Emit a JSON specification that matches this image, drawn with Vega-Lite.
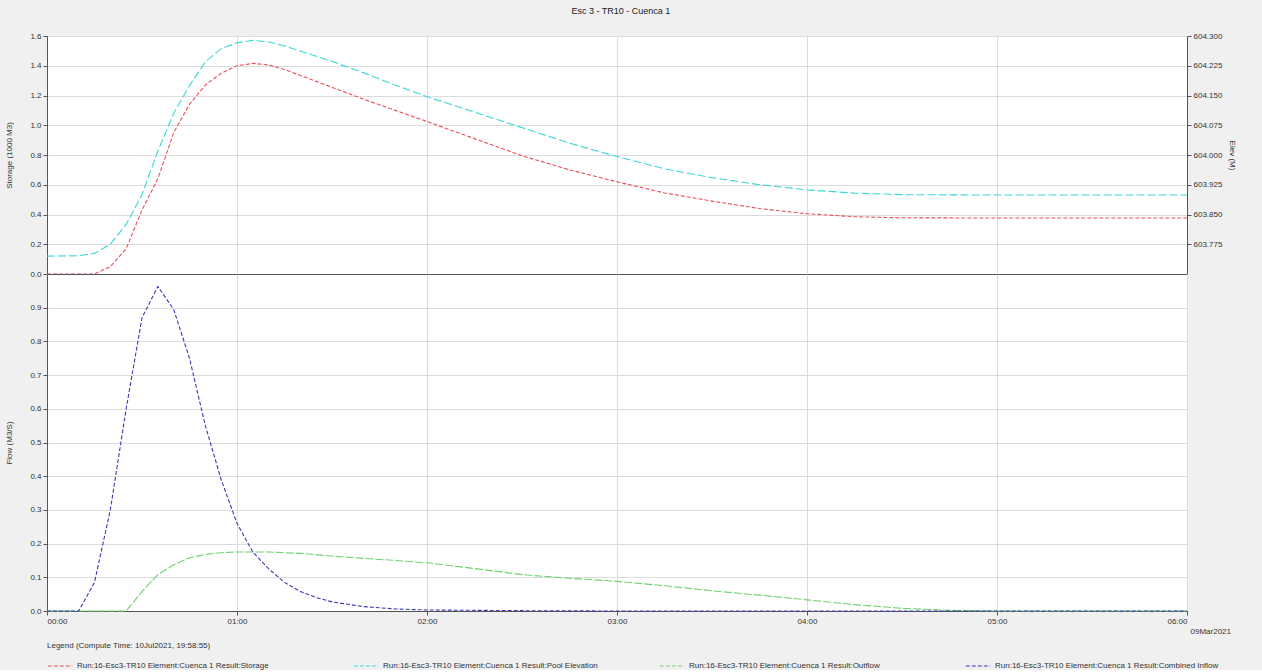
{
  "$schema": "https://vega.github.io/schema/vega-lite/v6.json",
  "background": "#f0f0f0",
  "padding": {"left": 5, "right": 27, "top": 6, "bottom": 0},
  "title": {"text": "Esc 3 - TR10 - Cuenca 1", "fontSize": 9, "fontWeight": "normal", "font": "Liberation Sans", "color": "#222", "offset": 16, "anchor": "middle"},
  "config": {
    "font": "Liberation Sans",
    "view": {"fill": "white", "stroke": "#555", "strokeWidth": 1},
    "axis": {"labelFontSize": 8, "titleFontSize": 8, "titleFontWeight": "normal", "labelColor": "#333", "titleColor": "#333", "gridColor": "#dcdcdc", "domainColor": "#555", "tickColor": "#555", "tickSize": 4},
    "legend": {"labelFontSize": 8, "titleFontSize": 8, "titleFontWeight": "normal", "labelColor": "#333", "titleColor": "#333", "orient": "bottom", "direction": "horizontal", "columns": 4, "symbolType": "stroke", "symbolSize": 600, "symbolStrokeWidth": 1.2, "symbolDash": [4, 2], "labelLimit": 320, "gridAlign": "all", "columnPadding": 50, "offset": 6, "titlePadding": 3, "rowPadding": 2}
  },
  "datasets": {
    "storage": [
      {"series": "Run:16-Esc3-TR10 Element:Cuenca 1 Result:Storage", "time": "2021-03-09T00:00:00Z", "value": 0},
      {"series": "Run:16-Esc3-TR10 Element:Cuenca 1 Result:Storage", "time": "2021-03-09T00:15:00Z", "value": 0},
      {"series": "Run:16-Esc3-TR10 Element:Cuenca 1 Result:Storage", "time": "2021-03-09T00:20:00Z", "value": 0.05},
      {"series": "Run:16-Esc3-TR10 Element:Cuenca 1 Result:Storage", "time": "2021-03-09T00:25:00Z", "value": 0.17},
      {"series": "Run:16-Esc3-TR10 Element:Cuenca 1 Result:Storage", "time": "2021-03-09T00:30:00Z", "value": 0.43},
      {"series": "Run:16-Esc3-TR10 Element:Cuenca 1 Result:Storage", "time": "2021-03-09T00:35:00Z", "value": 0.64},
      {"series": "Run:16-Esc3-TR10 Element:Cuenca 1 Result:Storage", "time": "2021-03-09T00:40:00Z", "value": 0.95},
      {"series": "Run:16-Esc3-TR10 Element:Cuenca 1 Result:Storage", "time": "2021-03-09T00:45:00Z", "value": 1.14},
      {"series": "Run:16-Esc3-TR10 Element:Cuenca 1 Result:Storage", "time": "2021-03-09T00:50:00Z", "value": 1.27},
      {"series": "Run:16-Esc3-TR10 Element:Cuenca 1 Result:Storage", "time": "2021-03-09T00:55:00Z", "value": 1.35},
      {"series": "Run:16-Esc3-TR10 Element:Cuenca 1 Result:Storage", "time": "2021-03-09T01:00:00Z", "value": 1.4},
      {"series": "Run:16-Esc3-TR10 Element:Cuenca 1 Result:Storage", "time": "2021-03-09T01:05:00Z", "value": 1.416},
      {"series": "Run:16-Esc3-TR10 Element:Cuenca 1 Result:Storage", "time": "2021-03-09T01:10:00Z", "value": 1.405},
      {"series": "Run:16-Esc3-TR10 Element:Cuenca 1 Result:Storage", "time": "2021-03-09T01:15:00Z", "value": 1.375},
      {"series": "Run:16-Esc3-TR10 Element:Cuenca 1 Result:Storage", "time": "2021-03-09T01:20:00Z", "value": 1.335},
      {"series": "Run:16-Esc3-TR10 Element:Cuenca 1 Result:Storage", "time": "2021-03-09T01:25:00Z", "value": 1.295},
      {"series": "Run:16-Esc3-TR10 Element:Cuenca 1 Result:Storage", "time": "2021-03-09T01:30:00Z", "value": 1.255},
      {"series": "Run:16-Esc3-TR10 Element:Cuenca 1 Result:Storage", "time": "2021-03-09T01:40:00Z", "value": 1.175},
      {"series": "Run:16-Esc3-TR10 Element:Cuenca 1 Result:Storage", "time": "2021-03-09T01:50:00Z", "value": 1.1},
      {"series": "Run:16-Esc3-TR10 Element:Cuenca 1 Result:Storage", "time": "2021-03-09T02:00:00Z", "value": 1.025},
      {"series": "Run:16-Esc3-TR10 Element:Cuenca 1 Result:Storage", "time": "2021-03-09T02:15:00Z", "value": 0.91},
      {"series": "Run:16-Esc3-TR10 Element:Cuenca 1 Result:Storage", "time": "2021-03-09T02:30:00Z", "value": 0.795},
      {"series": "Run:16-Esc3-TR10 Element:Cuenca 1 Result:Storage", "time": "2021-03-09T02:45:00Z", "value": 0.7},
      {"series": "Run:16-Esc3-TR10 Element:Cuenca 1 Result:Storage", "time": "2021-03-09T03:00:00Z", "value": 0.62},
      {"series": "Run:16-Esc3-TR10 Element:Cuenca 1 Result:Storage", "time": "2021-03-09T03:15:00Z", "value": 0.545},
      {"series": "Run:16-Esc3-TR10 Element:Cuenca 1 Result:Storage", "time": "2021-03-09T03:30:00Z", "value": 0.49},
      {"series": "Run:16-Esc3-TR10 Element:Cuenca 1 Result:Storage", "time": "2021-03-09T03:45:00Z", "value": 0.44},
      {"series": "Run:16-Esc3-TR10 Element:Cuenca 1 Result:Storage", "time": "2021-03-09T04:00:00Z", "value": 0.405},
      {"series": "Run:16-Esc3-TR10 Element:Cuenca 1 Result:Storage", "time": "2021-03-09T04:15:00Z", "value": 0.385},
      {"series": "Run:16-Esc3-TR10 Element:Cuenca 1 Result:Storage", "time": "2021-03-09T04:30:00Z", "value": 0.378},
      {"series": "Run:16-Esc3-TR10 Element:Cuenca 1 Result:Storage", "time": "2021-03-09T05:00:00Z", "value": 0.376},
      {"series": "Run:16-Esc3-TR10 Element:Cuenca 1 Result:Storage", "time": "2021-03-09T06:00:00Z", "value": 0.376}
    ],
    "elev": [
      {"series": "Run:16-Esc3-TR10 Element:Cuenca 1 Result:Pool Elevation", "time": "2021-03-09T00:00:00Z", "value": 603.745},
      {"series": "Run:16-Esc3-TR10 Element:Cuenca 1 Result:Pool Elevation", "time": "2021-03-09T00:10:00Z", "value": 603.746},
      {"series": "Run:16-Esc3-TR10 Element:Cuenca 1 Result:Pool Elevation", "time": "2021-03-09T00:15:00Z", "value": 603.752},
      {"series": "Run:16-Esc3-TR10 Element:Cuenca 1 Result:Pool Elevation", "time": "2021-03-09T00:20:00Z", "value": 603.775},
      {"series": "Run:16-Esc3-TR10 Element:Cuenca 1 Result:Pool Elevation", "time": "2021-03-09T00:25:00Z", "value": 603.825},
      {"series": "Run:16-Esc3-TR10 Element:Cuenca 1 Result:Pool Elevation", "time": "2021-03-09T00:30:00Z", "value": 603.9},
      {"series": "Run:16-Esc3-TR10 Element:Cuenca 1 Result:Pool Elevation", "time": "2021-03-09T00:35:00Z", "value": 604.01},
      {"series": "Run:16-Esc3-TR10 Element:Cuenca 1 Result:Pool Elevation", "time": "2021-03-09T00:40:00Z", "value": 604.105},
      {"series": "Run:16-Esc3-TR10 Element:Cuenca 1 Result:Pool Elevation", "time": "2021-03-09T00:45:00Z", "value": 604.175},
      {"series": "Run:16-Esc3-TR10 Element:Cuenca 1 Result:Pool Elevation", "time": "2021-03-09T00:50:00Z", "value": 604.235},
      {"series": "Run:16-Esc3-TR10 Element:Cuenca 1 Result:Pool Elevation", "time": "2021-03-09T00:55:00Z", "value": 604.268},
      {"series": "Run:16-Esc3-TR10 Element:Cuenca 1 Result:Pool Elevation", "time": "2021-03-09T01:00:00Z", "value": 604.283},
      {"series": "Run:16-Esc3-TR10 Element:Cuenca 1 Result:Pool Elevation", "time": "2021-03-09T01:05:00Z", "value": 604.289},
      {"series": "Run:16-Esc3-TR10 Element:Cuenca 1 Result:Pool Elevation", "time": "2021-03-09T01:10:00Z", "value": 604.285},
      {"series": "Run:16-Esc3-TR10 Element:Cuenca 1 Result:Pool Elevation", "time": "2021-03-09T01:15:00Z", "value": 604.275},
      {"series": "Run:16-Esc3-TR10 Element:Cuenca 1 Result:Pool Elevation", "time": "2021-03-09T01:20:00Z", "value": 604.262},
      {"series": "Run:16-Esc3-TR10 Element:Cuenca 1 Result:Pool Elevation", "time": "2021-03-09T01:30:00Z", "value": 604.236},
      {"series": "Run:16-Esc3-TR10 Element:Cuenca 1 Result:Pool Elevation", "time": "2021-03-09T01:40:00Z", "value": 604.207},
      {"series": "Run:16-Esc3-TR10 Element:Cuenca 1 Result:Pool Elevation", "time": "2021-03-09T01:50:00Z", "value": 604.176},
      {"series": "Run:16-Esc3-TR10 Element:Cuenca 1 Result:Pool Elevation", "time": "2021-03-09T02:00:00Z", "value": 604.147},
      {"series": "Run:16-Esc3-TR10 Element:Cuenca 1 Result:Pool Elevation", "time": "2021-03-09T02:15:00Z", "value": 604.108},
      {"series": "Run:16-Esc3-TR10 Element:Cuenca 1 Result:Pool Elevation", "time": "2021-03-09T02:30:00Z", "value": 604.069},
      {"series": "Run:16-Esc3-TR10 Element:Cuenca 1 Result:Pool Elevation", "time": "2021-03-09T02:45:00Z", "value": 604.03},
      {"series": "Run:16-Esc3-TR10 Element:Cuenca 1 Result:Pool Elevation", "time": "2021-03-09T03:00:00Z", "value": 603.996},
      {"series": "Run:16-Esc3-TR10 Element:Cuenca 1 Result:Pool Elevation", "time": "2021-03-09T03:15:00Z", "value": 603.965},
      {"series": "Run:16-Esc3-TR10 Element:Cuenca 1 Result:Pool Elevation", "time": "2021-03-09T03:30:00Z", "value": 603.943},
      {"series": "Run:16-Esc3-TR10 Element:Cuenca 1 Result:Pool Elevation", "time": "2021-03-09T03:45:00Z", "value": 603.925},
      {"series": "Run:16-Esc3-TR10 Element:Cuenca 1 Result:Pool Elevation", "time": "2021-03-09T04:00:00Z", "value": 603.912},
      {"series": "Run:16-Esc3-TR10 Element:Cuenca 1 Result:Pool Elevation", "time": "2021-03-09T04:15:00Z", "value": 603.904},
      {"series": "Run:16-Esc3-TR10 Element:Cuenca 1 Result:Pool Elevation", "time": "2021-03-09T04:30:00Z", "value": 603.9},
      {"series": "Run:16-Esc3-TR10 Element:Cuenca 1 Result:Pool Elevation", "time": "2021-03-09T05:00:00Z", "value": 603.899},
      {"series": "Run:16-Esc3-TR10 Element:Cuenca 1 Result:Pool Elevation", "time": "2021-03-09T06:00:00Z", "value": 603.899}
    ],
    "outflow": [
      {"series": "Run:16-Esc3-TR10 Element:Cuenca 1 Result:Outflow", "time": "2021-03-09T00:00:00Z", "value": 0},
      {"series": "Run:16-Esc3-TR10 Element:Cuenca 1 Result:Outflow", "time": "2021-03-09T00:25:00Z", "value": 0},
      {"series": "Run:16-Esc3-TR10 Element:Cuenca 1 Result:Outflow", "time": "2021-03-09T00:30:00Z", "value": 0.058},
      {"series": "Run:16-Esc3-TR10 Element:Cuenca 1 Result:Outflow", "time": "2021-03-09T00:35:00Z", "value": 0.108},
      {"series": "Run:16-Esc3-TR10 Element:Cuenca 1 Result:Outflow", "time": "2021-03-09T00:40:00Z", "value": 0.137},
      {"series": "Run:16-Esc3-TR10 Element:Cuenca 1 Result:Outflow", "time": "2021-03-09T00:45:00Z", "value": 0.158},
      {"series": "Run:16-Esc3-TR10 Element:Cuenca 1 Result:Outflow", "time": "2021-03-09T00:50:00Z", "value": 0.168},
      {"series": "Run:16-Esc3-TR10 Element:Cuenca 1 Result:Outflow", "time": "2021-03-09T00:55:00Z", "value": 0.173},
      {"series": "Run:16-Esc3-TR10 Element:Cuenca 1 Result:Outflow", "time": "2021-03-09T01:00:00Z", "value": 0.175},
      {"series": "Run:16-Esc3-TR10 Element:Cuenca 1 Result:Outflow", "time": "2021-03-09T01:10:00Z", "value": 0.175},
      {"series": "Run:16-Esc3-TR10 Element:Cuenca 1 Result:Outflow", "time": "2021-03-09T01:20:00Z", "value": 0.171},
      {"series": "Run:16-Esc3-TR10 Element:Cuenca 1 Result:Outflow", "time": "2021-03-09T01:30:00Z", "value": 0.163},
      {"series": "Run:16-Esc3-TR10 Element:Cuenca 1 Result:Outflow", "time": "2021-03-09T01:40:00Z", "value": 0.156},
      {"series": "Run:16-Esc3-TR10 Element:Cuenca 1 Result:Outflow", "time": "2021-03-09T01:50:00Z", "value": 0.15},
      {"series": "Run:16-Esc3-TR10 Element:Cuenca 1 Result:Outflow", "time": "2021-03-09T02:00:00Z", "value": 0.143},
      {"series": "Run:16-Esc3-TR10 Element:Cuenca 1 Result:Outflow", "time": "2021-03-09T02:15:00Z", "value": 0.126},
      {"series": "Run:16-Esc3-TR10 Element:Cuenca 1 Result:Outflow", "time": "2021-03-09T02:30:00Z", "value": 0.108},
      {"series": "Run:16-Esc3-TR10 Element:Cuenca 1 Result:Outflow", "time": "2021-03-09T02:45:00Z", "value": 0.097},
      {"series": "Run:16-Esc3-TR10 Element:Cuenca 1 Result:Outflow", "time": "2021-03-09T03:00:00Z", "value": 0.088},
      {"series": "Run:16-Esc3-TR10 Element:Cuenca 1 Result:Outflow", "time": "2021-03-09T03:15:00Z", "value": 0.075},
      {"series": "Run:16-Esc3-TR10 Element:Cuenca 1 Result:Outflow", "time": "2021-03-09T03:30:00Z", "value": 0.06},
      {"series": "Run:16-Esc3-TR10 Element:Cuenca 1 Result:Outflow", "time": "2021-03-09T03:45:00Z", "value": 0.047},
      {"series": "Run:16-Esc3-TR10 Element:Cuenca 1 Result:Outflow", "time": "2021-03-09T04:00:00Z", "value": 0.033},
      {"series": "Run:16-Esc3-TR10 Element:Cuenca 1 Result:Outflow", "time": "2021-03-09T04:15:00Z", "value": 0.019},
      {"series": "Run:16-Esc3-TR10 Element:Cuenca 1 Result:Outflow", "time": "2021-03-09T04:30:00Z", "value": 0.008},
      {"series": "Run:16-Esc3-TR10 Element:Cuenca 1 Result:Outflow", "time": "2021-03-09T04:45:00Z", "value": 0.002},
      {"series": "Run:16-Esc3-TR10 Element:Cuenca 1 Result:Outflow", "time": "2021-03-09T05:00:00Z", "value": 0},
      {"series": "Run:16-Esc3-TR10 Element:Cuenca 1 Result:Outflow", "time": "2021-03-09T06:00:00Z", "value": 0}
    ],
    "inflow": [
      {"series": "Run:16-Esc3-TR10 Element:Cuenca 1 Result:Combined Inflow", "time": "2021-03-09T00:00:00Z", "value": 0},
      {"series": "Run:16-Esc3-TR10 Element:Cuenca 1 Result:Combined Inflow", "time": "2021-03-09T00:10:00Z", "value": 0},
      {"series": "Run:16-Esc3-TR10 Element:Cuenca 1 Result:Combined Inflow", "time": "2021-03-09T00:15:00Z", "value": 0.085},
      {"series": "Run:16-Esc3-TR10 Element:Cuenca 1 Result:Combined Inflow", "time": "2021-03-09T00:20:00Z", "value": 0.3},
      {"series": "Run:16-Esc3-TR10 Element:Cuenca 1 Result:Combined Inflow", "time": "2021-03-09T00:25:00Z", "value": 0.6},
      {"series": "Run:16-Esc3-TR10 Element:Cuenca 1 Result:Combined Inflow", "time": "2021-03-09T00:30:00Z", "value": 0.87},
      {"series": "Run:16-Esc3-TR10 Element:Cuenca 1 Result:Combined Inflow", "time": "2021-03-09T00:35:00Z", "value": 0.963},
      {"series": "Run:16-Esc3-TR10 Element:Cuenca 1 Result:Combined Inflow", "time": "2021-03-09T00:40:00Z", "value": 0.895},
      {"series": "Run:16-Esc3-TR10 Element:Cuenca 1 Result:Combined Inflow", "time": "2021-03-09T00:45:00Z", "value": 0.75},
      {"series": "Run:16-Esc3-TR10 Element:Cuenca 1 Result:Combined Inflow", "time": "2021-03-09T00:50:00Z", "value": 0.55},
      {"series": "Run:16-Esc3-TR10 Element:Cuenca 1 Result:Combined Inflow", "time": "2021-03-09T00:55:00Z", "value": 0.39},
      {"series": "Run:16-Esc3-TR10 Element:Cuenca 1 Result:Combined Inflow", "time": "2021-03-09T01:00:00Z", "value": 0.26},
      {"series": "Run:16-Esc3-TR10 Element:Cuenca 1 Result:Combined Inflow", "time": "2021-03-09T01:05:00Z", "value": 0.175},
      {"series": "Run:16-Esc3-TR10 Element:Cuenca 1 Result:Combined Inflow", "time": "2021-03-09T01:10:00Z", "value": 0.125},
      {"series": "Run:16-Esc3-TR10 Element:Cuenca 1 Result:Combined Inflow", "time": "2021-03-09T01:15:00Z", "value": 0.085},
      {"series": "Run:16-Esc3-TR10 Element:Cuenca 1 Result:Combined Inflow", "time": "2021-03-09T01:20:00Z", "value": 0.058},
      {"series": "Run:16-Esc3-TR10 Element:Cuenca 1 Result:Combined Inflow", "time": "2021-03-09T01:25:00Z", "value": 0.04},
      {"series": "Run:16-Esc3-TR10 Element:Cuenca 1 Result:Combined Inflow", "time": "2021-03-09T01:30:00Z", "value": 0.027},
      {"series": "Run:16-Esc3-TR10 Element:Cuenca 1 Result:Combined Inflow", "time": "2021-03-09T01:40:00Z", "value": 0.013},
      {"series": "Run:16-Esc3-TR10 Element:Cuenca 1 Result:Combined Inflow", "time": "2021-03-09T01:50:00Z", "value": 0.006},
      {"series": "Run:16-Esc3-TR10 Element:Cuenca 1 Result:Combined Inflow", "time": "2021-03-09T02:00:00Z", "value": 0.003},
      {"series": "Run:16-Esc3-TR10 Element:Cuenca 1 Result:Combined Inflow", "time": "2021-03-09T02:30:00Z", "value": 0.001},
      {"series": "Run:16-Esc3-TR10 Element:Cuenca 1 Result:Combined Inflow", "time": "2021-03-09T03:00:00Z", "value": 0},
      {"series": "Run:16-Esc3-TR10 Element:Cuenca 1 Result:Combined Inflow", "time": "2021-03-09T06:00:00Z", "value": 0}
    ]
  },
  "spacing": 0,
  "bounds": "flush",
  "vconcat": [
    {
      "width": 1140,
      "height": 238,
      "encoding": {
        "x": {"field": "time", "type": "temporal", "scale": {"type": "utc"}, "axis": {"title": null, "labels": false, "ticks": false, "domain": false, "grid": true, "tickCount": 6, "labelPadding": 0, "tickSize": 0, "maxExtent": 0, "minExtent": 0, "offset": 0}}
      },
      "layer": [
        {
          "data": {"name": "storage"},
          "mark": {"type": "line", "strokeWidth": 1.1, "strokeDash": [4, 2]},
          "encoding": {
            "y": {"field": "value", "type": "quantitative", "scale": {"domain": [0, 1.6]}, "axis": {"title": "Storage (1000 M3)", "values": [0, 0.2, 0.4, 0.6, 0.8, 1.0, 1.2, 1.4, 1.6], "format": ".1f", "grid": true, "titlePadding": 16}},
            "color": {"field": "series", "type": "nominal", "title": "Legend (Compute Time: 10Jul2021, 19:58:55)", "scale": {"domain": ["Run:16-Esc3-TR10 Element:Cuenca 1 Result:Storage", "Run:16-Esc3-TR10 Element:Cuenca 1 Result:Pool Elevation", "Run:16-Esc3-TR10 Element:Cuenca 1 Result:Outflow", "Run:16-Esc3-TR10 Element:Cuenca 1 Result:Combined Inflow"], "range": ["#e8505a", "#3fd6d6", "#6fd36f", "#3a3ab8"]}}
          }
        },
        {
          "data": {"name": "elev"},
          "mark": {"type": "line", "strokeWidth": 1.1, "strokeDash": [8, 3]},
          "encoding": {
            "y": {"field": "value", "type": "quantitative", "scale": {"domain": [603.7, 604.3], "zero": false}, "axis": {"title": "Elev (M)", "orient": "right", "values": [603.775, 603.85, 603.925, 604.0, 604.075, 604.15, 604.225, 604.3], "format": ".3f", "grid": false, "titlePadding": 6}},
            "color": {"field": "series", "type": "nominal", "title": "Legend (Compute Time: 10Jul2021, 19:58:55)"}
          }
        }
      ],
      "resolve": {"scale": {"y": "independent"}}
    },
    {
      "width": 1140,
      "height": 337,
      "encoding": {
        "x": {"field": "time", "type": "temporal", "scale": {"type": "utc"}, "axis": {"title": "09Mar2021", "format": "%H:%M", "tickCount": 6, "grid": true, "titleAnchor": "end", "titleAlign": "left", "titleX": 1143, "titleY": 16, "titleFontWeight": "normal"}},
        "y": {"field": "value", "type": "quantitative", "scale": {"domain": [0, 1.0]}, "axis": {"title": "Flow (M3/S)", "values": [0, 0.1, 0.2, 0.3, 0.4, 0.5, 0.6, 0.7, 0.8, 0.9], "format": ".1f", "grid": true, "titlePadding": 16}},
        "color": {"field": "series", "type": "nominal", "title": "Legend (Compute Time: 10Jul2021, 19:58:55)"}
      },
      "layer": [
        {
          "data": {"name": "outflow"},
          "mark": {"type": "line", "strokeWidth": 1.1, "strokeDash": [8, 2]}
        },
        {
          "data": {"name": "inflow"},
          "mark": {"type": "line", "strokeWidth": 1.1, "strokeDash": [4, 2]}
        }
      ]
    }
  ]
}
